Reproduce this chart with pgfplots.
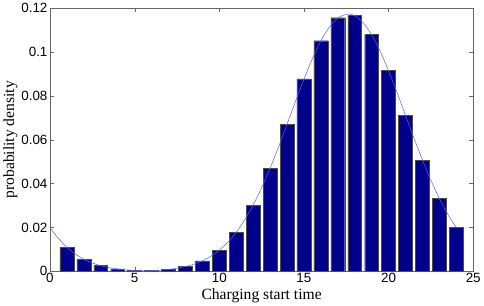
\documentclass[border=0pt]{standalone}
\usepackage{pgfplots}
\pgfplotsset{compat=1.18}
\usepackage{fontspec}
\setmainfont{Liberation Serif}
\newfontfamily\tickfont{Liberation Sans}
\definecolor{barblue}{RGB}{0,0,139}
\definecolor{curveblue}{RGB}{90,90,255}
\begin{document}
\begin{tikzpicture}
\begin{axis}[
  scale only axis, width=426pt, height=265pt,
  xmin=0, xmax=25, ymin=0, ymax=0.12,
  axis line style={draw=black!60},
  tick style={draw=black!60},
  tick align=inside, major tick length=4pt,
  xtick={0,5,10,15,20,25},
  ytick={0,0.02,0.04,0.06,0.08,0.1,0.12},
  yticklabels={0,0.02,0.04,0.06,0.08,0.1,0.12},
  xticklabels={0,5,10,15,20,25},
  ticklabel style={font=\tickfont\fontsize{13.5}{14}\selectfont},
  xticklabel style={yshift=2pt},
  yticklabel style={xshift=1pt},
  xlabel={Charging start time},
  ylabel={probability density},
  label style={font=\fontsize{15.7}{16}\selectfont},
  xlabel style={yshift=1pt},
  ylabel style={yshift=-3pt},
]
\addplot[ybar, bar width=0.82, fill=barblue, draw=black!70, line width=0.4pt] coordinates {
(1,0.0110) (2,0.0055) (3,0.0026) (4,0.0011) (5,0.0005) (6,0.0003)
(7,0.0009) (8,0.0022) (9,0.0048) (10,0.0096) (11,0.0178) (12,0.0301)
(13,0.0471) (14,0.0669) (15,0.0877) (16,0.1051) (17,0.1156) (18,0.1168)
(19,0.1079) (20,0.0917) (21,0.0712) (22,0.0507) (23,0.0332) (24,0.0200)
};
\addplot[smooth, curveblue, line width=0.5pt, mark=none] coordinates {
(0,0.0200) (0.5,0.01497) (1,0.0110) (1.5,0.00789) (2,0.00555) (2.5,0.00381)
(3,0.00257) (3.5,0.00169) (4,0.00109) (4.5,0.00069) (5,0.00042) (5.5,0.00024)
(6,0.00035) (6.5,0.00057) (7,0.00091) (7.5,0.00142) (8,0.00218) (8.5,0.00326)
(9,0.00478) (9.5,0.00687) (10,0.00965) (10.5,0.01326) (11,0.0178) (11.5,0.02346)
(12,0.0302) (12.5,0.0381) (13,0.0470) (13.5,0.0567) (14,0.0670) (14.5,0.0774)
(15,0.0876) (15.5,0.0969) (16,0.1050) (16.5,0.1113) (17,0.1155) (17.6,0.1173)
(18,0.1165) (18.5,0.1133) (19,0.1078) (19.5,0.1004) (20,0.0914) (20.5,0.0815)
(21,0.0711) (21.5,0.0607) (22,0.0508) (22.5,0.0415) (23,0.0332) (23.5,0.0260)
(24,0.0200)
};
\end{axis}
\end{tikzpicture}
\end{document}
